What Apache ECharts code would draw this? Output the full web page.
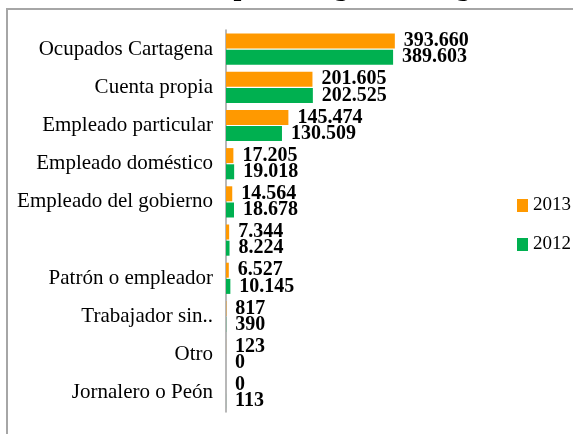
<!DOCTYPE html>
<html>
<head>
<meta charset="utf-8">
<script src="https://cdn.jsdelivr.net/npm/echarts@6/dist/echarts.min.js"></script>
<style>
    html, body { margin: 0; padding: 0; background: #fff; }
    #chart { width: 573px; height: 434px; }
</style>
</head>
<body>
<div id="chart"></div>
<script type="text/javascript">
    // categorias y valores
    var categories = ['Ocupados Cartagena', 'Cuenta propia', 'Empleado particular', 'Empleado doméstico',
        'Empleado del gobierno', '', 'Patrón o empleador', 'Trabajador sin..', 'Otro', 'Jornalero o Peón'];
    var values2013 = [393660, 201605, 145474, 17205, 14564, 7344, 6527, 817, 123, 0];
    var values2012 = [389603, 202525, 130509, 19018, 18678, 8224, 10145, 390, 0, 113];
    var seriesNames = ['2013', '2012'];

    var serif = 'Liberation Serif';

    function fmt(v) {
        return String(v).replace(/\B(?=(\d{3})+(?!\d))/g, '.');
    }

    var myChart = echarts.init(document.getElementById('chart'));

    var labelStyle = {
        show: true,
        position: 'right',
        distance: 9,
        color: '#000',
        fontFamily: serif,
        fontWeight: 'bold',
        fontSize: 20,
        formatter: function (p) { return fmt(p.value); }
    };

    option = {
        animation: false,
        graphic: [
            {
                type: 'rect',
                shape: { x: 7, y: 9, width: 700, height: 600 },
                style: { fill: 'none', stroke: '#a6a6a6', lineWidth: 2 }
            },
            {
                // titulo cortado arriba, solo se ven los trazos bajos
                type: 'text',
                x: 512,
                y: -26,
                style: {
                    text: 'Ocupados según Cartagena',
                    align: 'right',
                    fontFamily: serif,
                    fontWeight: 'bold',
                    fontSize: 28,
                    fill: '#000'
                }
            }
        ],
        legend: {
            data: seriesNames,
            orient: 'vertical',
            left: 512,
            top: 191,
            itemWidth: 11,
            itemHeight: 13,
            itemGap: 20,
            icon: 'rect',
            textStyle: { fontFamily: serif, fontSize: 19, color: '#000' }
        },
        grid: {
            left: 226,
            top: 30,
            bottom: 22,
            width: 193
        },
        xAxis: {
            type: 'value',
            min: 0,
            max: 450000,
            show: false
        },
        yAxis: {
            type: 'category',
            inverse: true,
            data: categories,
            axisLine: { lineStyle: { color: '#a0a0a0', width: 1.5 } },
            axisTick: { length: 6, lineStyle: { color: '#a0a0a0', width: 1.5 } },
            axisLabel: { margin: 13, color: '#000', fontFamily: serif, fontSize: 21 }
        },
        series: [
            {
                name: seriesNames[0],
                type: 'bar',
                data: values2013,
                barWidth: 15,
                barGap: '8%',
                itemStyle: { color: '#ff9900' },
                label: labelStyle
            },
            {
                name: seriesNames[1],
                type: 'bar',
                data: values2012,
                barWidth: 15,
                barGap: '8%',
                itemStyle: { color: '#00b050' },
                label: labelStyle
            }
        ]
    };

    myChart.setOption(option);
</script>
</body>
</html>
